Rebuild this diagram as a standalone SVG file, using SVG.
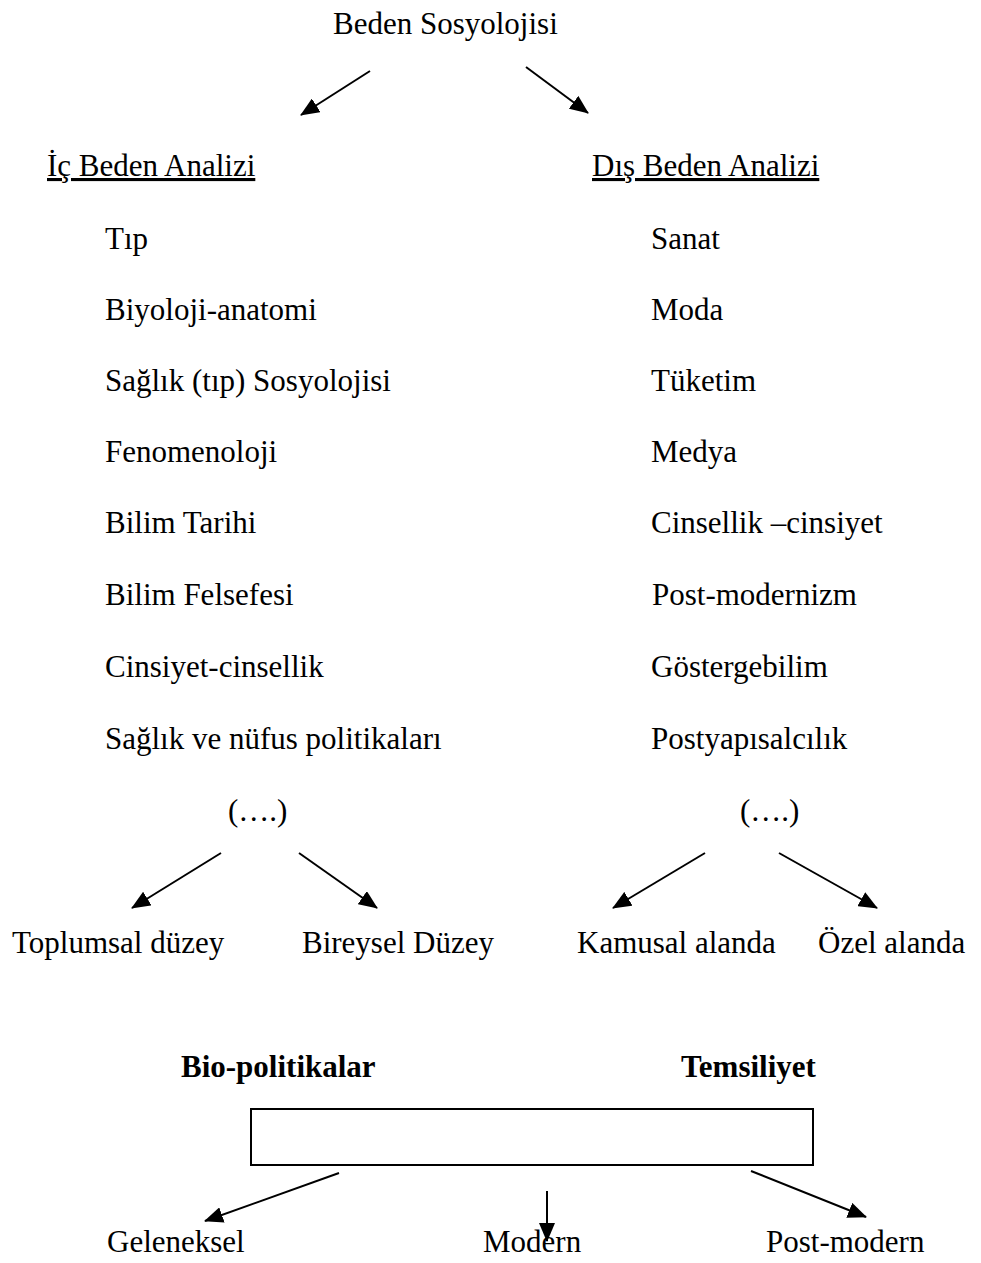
<svg xmlns="http://www.w3.org/2000/svg" width="981" height="1263" viewBox="0 0 981 1263">
<style>
text{font-family:"Liberation Serif","Times New Roman",serif;font-size:31px;fill:#000}
.b{font-weight:bold}
.u{text-decoration:underline}
.c line{stroke:#000;stroke-width:2;marker-end:url(#ah)}
</style>
<defs>
<marker id="ah" viewBox="0 0 19 16" refX="18" refY="8" markerWidth="19" markerHeight="16" markerUnits="userSpaceOnUse" orient="auto">
<path d="M0,0 L19,8 L0,16 Z" fill="#000"/>
</marker>
</defs>
<rect width="981" height="1263" fill="#fff"/>
<g id="root"><text x="333" y="34">Beden Sosyolojisi</text></g>
<g id="ic"><text class="u" x="47" y="176">İç Beden Analizi</text></g>
<g id="dis"><text class="u" x="592" y="176">Dış Beden Analizi</text></g>
<g id="ic-list">
<text x="105" y="249">Tıp</text>
<text x="105" y="320">Biyoloji-anatomi</text>
<text x="105" y="391">Sağlık (tıp) Sosyolojisi</text>
<text x="105" y="462">Fenomenoloji</text>
<text x="105" y="533">Bilim Tarihi</text>
<text x="105" y="605">Bilim Felsefesi</text>
<text x="105" y="677">Cinsiyet-cinsellik</text>
<text x="105" y="749">Sağlık ve nüfus politikaları</text>
<text x="228" y="821">(….)</text>
</g>
<g id="dis-list">
<text x="651" y="249">Sanat</text>
<text x="651" y="320">Moda</text>
<text x="651" y="391">Tüketim</text>
<text x="651" y="462">Medya</text>
<text x="651" y="533">Cinsellik –cinsiyet</text>
<text x="652" y="605">Post-modernizm</text>
<text x="651" y="677">Göstergebilim</text>
<text x="651" y="749">Postyapısalcılık</text>
<text x="740" y="821">(….)</text>
</g>
<g id="toplumsal"><text x="12" y="953">Toplumsal düzey</text></g>
<g id="bireysel"><text x="302" y="953">Bireysel Düzey</text></g>
<g id="kamusal"><text x="577" y="953">Kamusal alanda</text></g>
<g id="ozel"><text x="818" y="953">Özel alanda</text></g>
<g id="scale">
<text class="b" x="181" y="1077">Bio-politikalar</text>
<text class="b" x="681" y="1077">Temsiliyet</text>
<rect x="251" y="1109" width="562" height="56" fill="none" stroke="#000" stroke-width="2"/>
</g>
<g id="geleneksel"><text x="107" y="1252">Geleneksel</text></g>
<g id="modern"><text x="483" y="1252">Modern</text></g>
<g id="postmodern"><text x="766" y="1252">Post-modern</text></g>
<g id="connectors" class="c">
<line x1="370" y1="71" x2="301" y2="115"/>
<line x1="526" y1="67" x2="588" y2="113"/>
<line x1="221" y1="853" x2="132" y2="908"/>
<line x1="299" y1="853" x2="377" y2="908"/>
<line x1="705" y1="853" x2="613" y2="908"/>
<line x1="779" y1="853" x2="877" y2="908"/>
<line x1="339" y1="1173" x2="205" y2="1221"/>
<line x1="547" y1="1191" x2="547" y2="1241"/>
<line x1="751" y1="1171" x2="866" y2="1217"/>
</g>
</svg>
